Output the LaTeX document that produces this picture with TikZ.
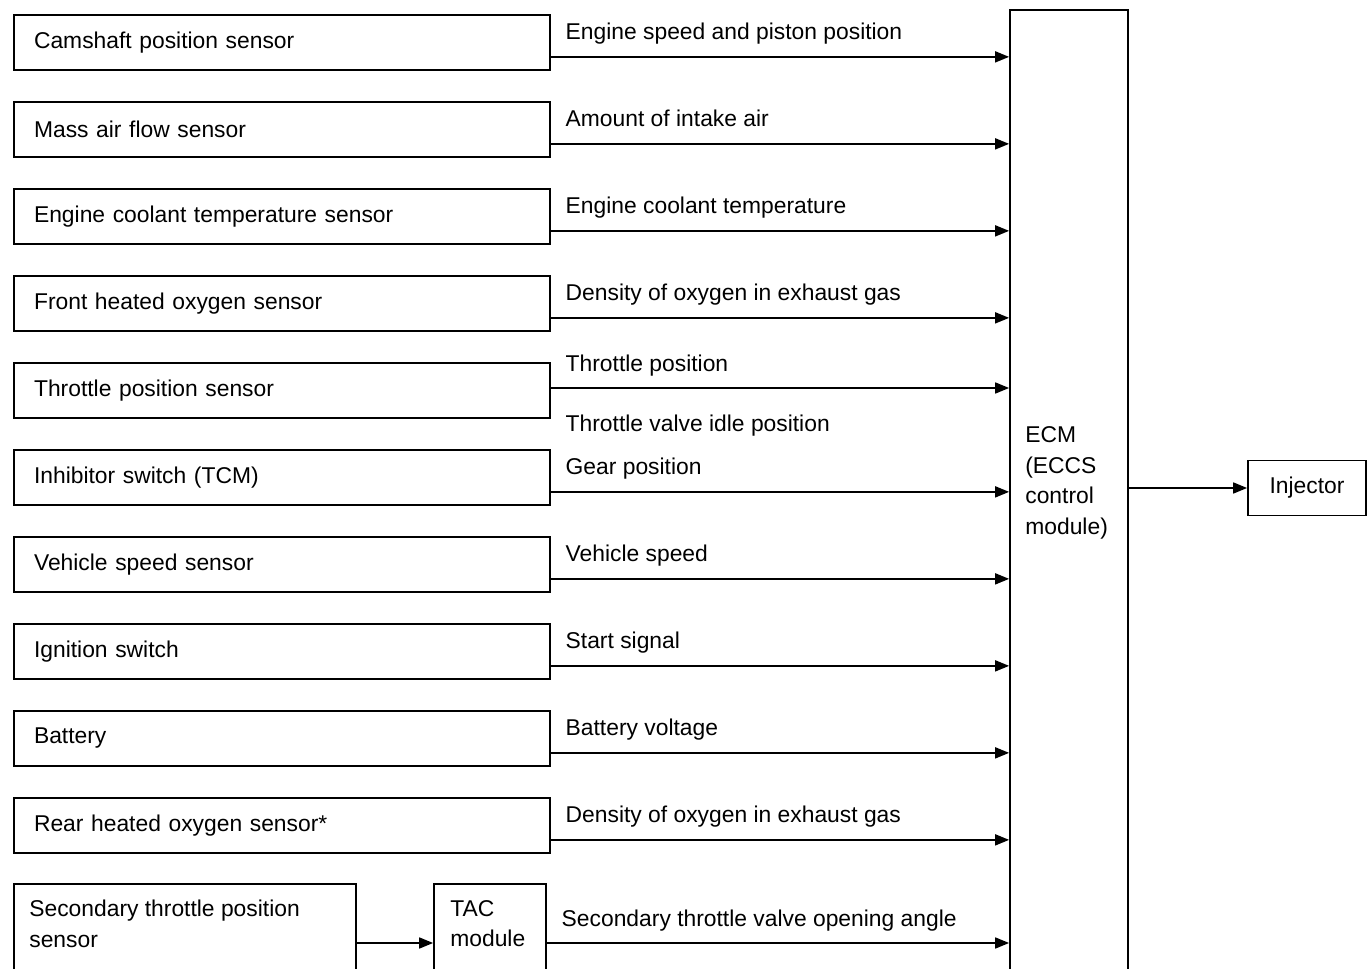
\documentclass[tikz,border=0pt]{standalone}
\usepackage{fontspec}
\setmainfont{Liberation Sans}
\usetikzlibrary{arrows.meta}

\tikzset{
  sensor/.style={draw, line width=1pt, text width=9.92cm, inner xsep=0.4cm,
    minimum height=1.1cm, align=left},
  unitbox/.style={draw, line width=1pt, minimum height=2.36cm},
  sig/.style={line width=1pt, -{Triangle[length=0.28cm, width=0.22cm]}},
  lbl/.style={anchor=base west, inner sep=0pt, xshift=0.28cm, yshift=0.34cm},
  boxtext/.style={anchor=north west, align=left, inner sep=0pt},
}

\begin{document}
\begin{tikzpicture}[x=0.02cm, y=-0.02cm, font=\fontsize{13}{17.4}\selectfont]
  \clip (0,0) rectangle (1367,969);

  % ECM and output
  \node[draw, line width=1pt, minimum width=2.36cm, minimum height=19.8cm] (ecm) at (1069,505) {};
  \node[anchor=west, align=left, inner sep=0pt] (ecmtxt) at (1025,483) {ECM\\(ECCS\\control\\module)};
  \node[draw, line width=1pt, minimum width=2.36cm, minimum height=1.1cm] (inj) at (1307,488) {Injector};
  \draw[sig] (inj.west -| ecm.east) -- (inj.west);

  % sensors
  \foreach \i/\txt in {1/Camshaft position sensor, 2/Mass air flow sensor,
      3/Engine coolant temperature sensor, 4/Front heated oxygen sensor,
      5/Throttle position sensor, 6/Inhibitor switch (TCM), 7/Vehicle speed sensor,
      8/Ignition switch, 9/Battery, 10/Rear heated oxygen sensor*}
    \node[sensor] (s\i) at (282,{(\i-1)*87+42.5}) {\txt};

  \foreach \i/\sig in {1/Engine speed and piston position, 2/Amount of intake air,
      3/Engine coolant temperature, 4/Density of oxygen in exhaust gas,
      6/Gear position, 7/Vehicle speed, 8/Start signal, 9/Battery voltage,
      10/Density of oxygen in exhaust gas}
    \draw[sig] ([yshift=0.28cm]s\i.south east) -- ([yshift=0.28cm]s\i.south east -| ecm.west)
      node[lbl, pos=0] {\sig};

  % throttle row has two signals
  \draw[sig] ([yshift=0.05cm]s5.east) -- ([yshift=0.05cm]s5.east -| ecm.west)
    node[lbl, pos=0] {Throttle position}
    node[lbl, pos=0, yshift=-1.22cm] {Throttle valve idle position};

  % secondary throttle via TAC
  \node[unitbox, minimum width=6.84cm] (stps) at (185,943) {};
  \node[boxtext] (stpstxt) at (29,900) {Secondary throttle position\\sensor};
  \node[unitbox, minimum width=2.24cm] (tac) at (490,943) {};
  \node[boxtext] (tactxt) at (450,900) {TAC\\module};
  \draw[sig] (stps.east) -- (tac.west);
  \draw[sig] (tac.east) -- (tac.east -| ecm.west)
    node[lbl, pos=0] {Secondary throttle valve opening angle};
\end{tikzpicture}
\end{document}
